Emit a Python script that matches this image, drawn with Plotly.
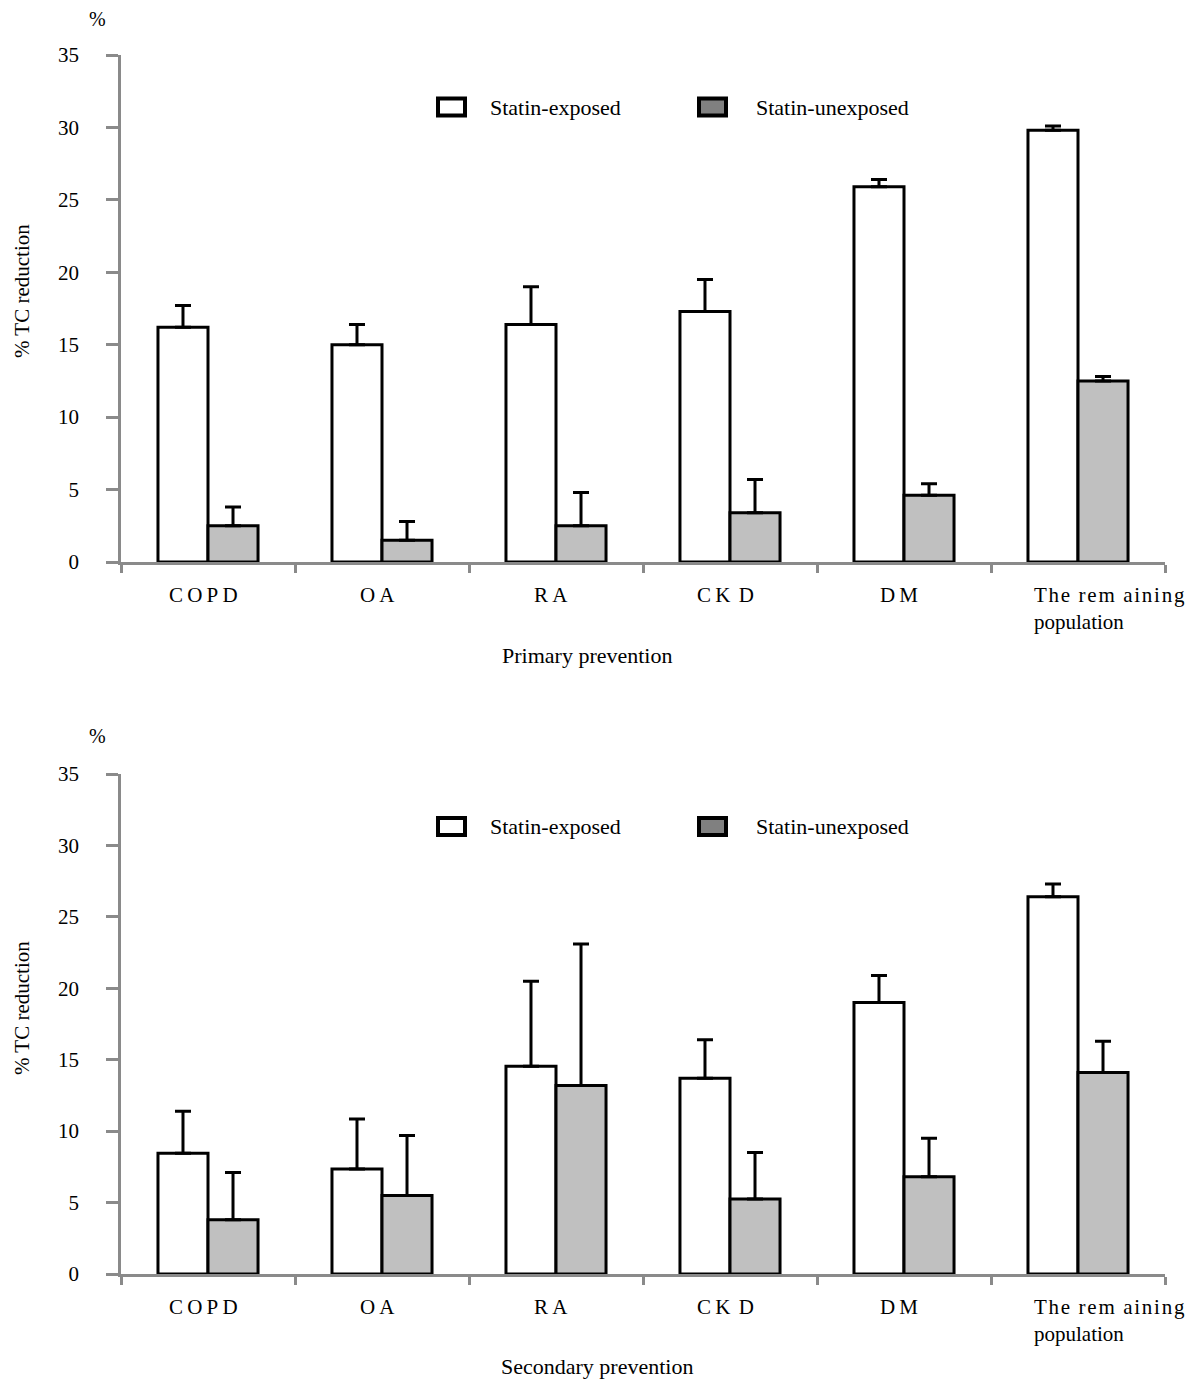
import plotly.graph_objects as go
from plotly.subplots import make_subplots

categories = ["COPD", "OA", "RA", "CKD", "DM", "The remaining population"]
cat_labels = ["C\u2009O\u2009P\u2009D", "O\u2009A", "R\u2009A", "C\u2009K\u2009\u2009D", "D\u2009M",
              "T\u200ah\u200ae\u2009\u2009r\u200ae\u200am\u2009\u2009a\u200ai\u200an\u200ai\u200an\u200ag<br>population"]

# Primary prevention
primary_exposed = [16.2, 15.0, 16.4, 17.3, 25.9, 29.8]
primary_exposed_upper = [17.7, 16.4, 19.0, 19.5, 26.4, 30.1]
primary_unexposed = [2.5, 1.5, 2.5, 3.4, 4.6, 12.5]
primary_unexposed_upper = [3.8, 2.8, 4.8, 5.7, 5.4, 12.8]

# Secondary prevention
secondary_exposed = [8.45, 7.35, 14.55, 13.7, 19.0, 26.4]
secondary_exposed_upper = [11.4, 10.85, 20.5, 16.4, 20.9, 27.3]
secondary_unexposed = [3.8, 5.5, 13.2, 5.25, 6.8, 14.1]
secondary_unexposed_upper = [7.1, 9.7, 23.1, 8.5, 9.5, 16.3]

y_ticks = [0, 5, 10, 15, 20, 25, 30, 35]
series_names = ["Statin-exposed", "Statin-unexposed"]
panel_titles = ["Primary prevention", "Secondary prevention"]

W, H = 1200, 1379
OFF = 8  # page body margin
PW, PH = W - OFF, H - OFF


def px(X):
    return (X - OFF) / PW


def py(Y):
    return 1 - (Y - OFF) / PH


FONT = "Liberation Serif, Times New Roman, serif"
AXIS_GRAY = "#8a8a8a"
BAR_GRAY = "#c0c0c0"
LEG_GRAY = "#808080"

fig = make_subplots(rows=2, cols=1)


def add_panel(row, exp, exp_up, unexp, unexp_up):
    for name, vals, ups, color in [
        (series_names[0], exp, exp_up, "white"),
        (series_names[1], unexp, unexp_up, BAR_GRAY),
    ]:
        fig.add_trace(go.Bar(
            x=categories, y=vals, name=name, showlegend=False,
            marker=dict(color=color, line=dict(color="black", width=3)),
            error_y=dict(type="data", symmetric=False,
                         array=[u - v for u, v in zip(ups, vals)],
                         arrayminus=[0] * len(vals),
                         color="black", thickness=3, width=8),
        ), row=row, col=1)


add_panel(1, primary_exposed, primary_exposed_upper, primary_unexposed, primary_unexposed_upper)
add_panel(2, secondary_exposed, secondary_exposed_upper, secondary_unexposed, secondary_unexposed_upper)

panels = [
    dict(ytop=55, ybot=562, xa="xaxis", ya="yaxis", xr="x", yr="y", legy=107, pct_y=19, title_y=655, title_x=587, ytitle_y=291),
    dict(ytop=774, ybot=1274, xa="xaxis2", ya="yaxis2", xr="x2", yr="y2", legy=826.5, pct_y=736, title_y=1366, title_x=597, ytitle_y=1008),
]

layout_updates = {}
annotations = []
shapes = []
for i, p in enumerate(panels):
    layout_updates[p["xa"]] = dict(
        domain=[px(121), px(1165)], type="category", range=[-0.5, 5.5], automargin=False,
        showline=True, linecolor=AXIS_GRAY, linewidth=2.5,
        ticks="outside", tickson="boundaries", ticklen=8, tickwidth=2.5, tickcolor=AXIS_GRAY,
        showticklabels=False, showgrid=False, zeroline=False,
    )
    layout_updates[p["ya"]] = dict(
        domain=[py(p["ybot"]), py(p["ytop"])], range=[0, 35], automargin=False,
        tickvals=y_ticks, ticktext=[str(t) for t in y_ticks],
        showline=True, linecolor=AXIS_GRAY, linewidth=2.5,
        ticks="outside", ticklen=12, tickwidth=2.5, tickcolor=AXIS_GRAY,
        ticklabelstandoff=23,
        tickfont=dict(family=FONT, size=21, color="black"),
        showgrid=False, zeroline=False,
    )
    # category labels
    for c, lab in zip(categories, cat_labels):
        last = c == categories[-1]
        annotations.append(dict(
            x=c, xref=p["xr"], y=0, yref=p["yr"] + " domain",
            yanchor="top", yshift=-19, xanchor="left" if last else "center",
            xshift=-46 if last else -5, align="left",
            text=lab, showarrow=False,
            font=dict(family=FONT, size=21, color="black"),
        ))
    # x title
    annotations.append(dict(
        x=px(p["title_x"]), xref="paper", y=py(p["title_y"]), yref="paper",
        text=panel_titles[i], showarrow=False, xanchor="center", yanchor="middle",
        font=dict(family=FONT, size=22, color="black"),
    ))
    # y title
    annotations.append(dict(
        x=px(9), xref="paper", y=py(p["ytitle_y"]), yref="paper",
        text="% TC reduction", textangle=-90, showarrow=False,
        xanchor="left", yanchor="middle", borderpad=0,
        font=dict(family=FONT, size=21, color="black"),
    ))
    # percent sign
    annotations.append(dict(
        x=px(97), xref="paper", y=py(p["pct_y"]), yref="paper",
        text="%", showarrow=False, xanchor="center", yanchor="middle", borderpad=0,
        font=dict(family=FONT, size=20, color="black"),
    ))
    # legend
    ly = p["legy"]
    for (sx0, sx1, tx, fill, name) in [
        (438, 465, 488, "white", series_names[0]),
        (699, 726, 754, LEG_GRAY, series_names[1]),
    ]:
        shapes.append(dict(
            type="rect", xref="paper", yref="paper",
            x0=px(sx0), x1=px(sx1), y0=py(ly + 8.5), y1=py(ly - 8.5),
            line=dict(color="black", width=4), fillcolor=fill,
        ))
        annotations.append(dict(
            x=px(tx), xref="paper", y=py(ly), yref="paper", text=name,
            showarrow=False, xanchor="left", yanchor="middle",
            font=dict(family=FONT, size=22, color="black"),
        ))

fig.update_layout(
    template="none",
    width=PW, height=PH, autosize=False,
    margin=dict(l=0, r=0, t=0, b=0, pad=0),
    paper_bgcolor="white", plot_bgcolor="white",
    barmode="group", bargap=0.425, bargroupgap=0,
    showlegend=False,
    annotations=annotations, shapes=shapes,
    font=dict(family=FONT, color="black"),
    **layout_updates,
)

fig.write_html("out.html")
